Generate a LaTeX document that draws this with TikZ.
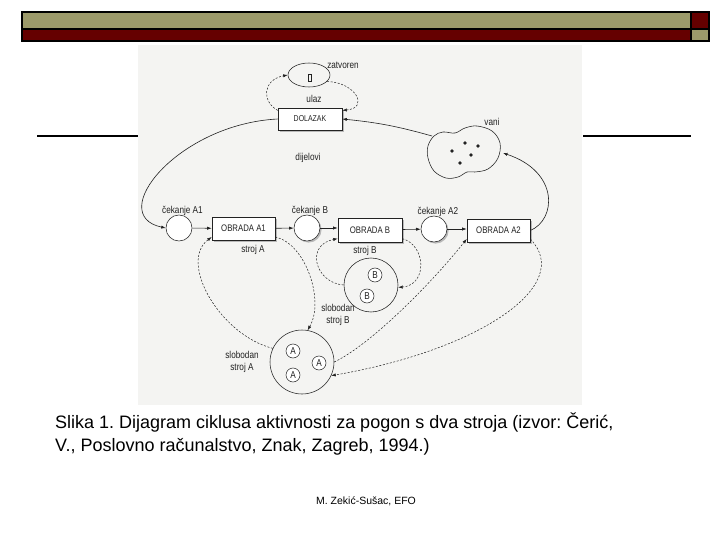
\documentclass[tikz,border=0pt]{standalone}
\usepackage{fontspec}
\setmainfont{Liberation Sans}
\newfontfamily\narrowfont[FakeStretch=0.82]{Liberation Sans}
\usepackage{tikz}
\usetikzlibrary{arrows.meta, positioning, calc, shapes.geometric, shadows}
\definecolor{cOlive}{HTML}{9C9A6A}
\definecolor{cMaroon}{HTML}{650000}
\definecolor{cScan}{HTML}{F4F4F2}
\definecolor{cInk}{HTML}{222222}
\frenchspacing

\begin{document}
\begin{tikzpicture}[x=1pt, y=1pt,
  shd/.style={drop shadow={shadow xshift=1.6pt, shadow yshift=-1.6pt, fill=gray!55, opacity=1}},
  box/.style={draw=cInk, fill=white, shd, line width=0.6pt, minimum width=63pt, minimum height=23pt, inner sep=0pt, font=\narrowfont\fontsize{9.5}{11}\selectfont, text=cInk},
  que/.style={draw=cInk, fill=white, circle, line width=0.55pt, minimum size=26pt, inner sep=0pt},
  pool/.style={draw=cInk, circle, line width=0.55pt, inner sep=0pt},
  tok/.style={draw=cInk, fill=white, circle, line width=0.5pt, minimum size=14pt, inner sep=0pt, font=\narrowfont\fontsize{10}{11}\selectfont, text=cInk},
  lbl/.style={font=\narrowfont\fontsize{10}{12}\selectfont, text=cInk, align=center, inner sep=0pt},
  arr/.style={-{Latex[length=4.5pt, width=3.2pt]}, draw=cInk, line width=0.6pt},
  dsh/.style={arr, dash pattern=on 2pt off 1.6pt, line width=0.5pt}
]
\useasboundingbox (0,0) rectangle (720,-540);

% slide frame
\draw[line width=1.2pt, fill=cOlive] (22,-12) rectangle (691,-29);
\draw[line width=1.2pt, fill=cMaroon] (691,-12) rectangle (709,-29);
\draw[line width=1.2pt, fill=cMaroon] (22,-29) rectangle (691,-41);
\draw[line width=1.2pt, fill=cOlive] (691,-29) rectangle (709,-41);
\draw[line width=2pt] (37,-136) -- (138,-136);
\draw[line width=2pt] (583,-136) -- (691,-136);
\fill[cScan] (138,-45) rectangle (582,-405);

% arrival part
\node[ellipse, draw=cInk, line width=0.55pt, minimum width=42pt, minimum height=24pt, inner sep=0pt] (zat) at (309,-75) {};
\node[draw=cInk, minimum width=3pt, minimum height=7pt, inner sep=0pt] (zbox) at (310,-78) {};
\node[lbl] (zatl) at (343,-65) {zatvoren};
\node[lbl] (ulaz) at (314,-99) {ulaz};
\node[box, minimum width=64pt, minimum height=22pt, font=\narrowfont\fontsize{8.5}{10}\selectfont] (dol) at (310,-119) {DOLAZAK};
\node[lbl] (dij) at (308,-158) {dijelovi};

% vani
\draw[cInk, line width=0.55pt] plot[smooth cycle, tension=0.6] coordinates {(443,-132) (455,-133) (465,-128) (477,-126) (492,-131) (500,-143) (498,-158) (488,-169) (475,-172) (467,-172) (458,-177) (446,-178) (434,-171) (428,-158) (428,-146) (434,-136)};
\foreach \p in {(465,-143), (478,-146), (471,-155), (452,-151), (460,-163)}
  \fill[cInk] \p circle (1.8pt);
\node[lbl] (vanil) at (492,-122) {vani};
\coordinate (vaniW) at (432,-136);
\coordinate (vaniE) at (503,-153);

% row of queues and activities
\node[que] (cekA1) at (179,-228) {};
\node[box] (obrA1) at (243.5,-228.5) {OBRADA A1};
\node[que, shd] (cekB) at (307,-228) {};
\node[box, minimum width=64pt, minimum height=24pt] (obrB) at (370,-230) {OBRADA B};
\node[que, shd] (cekA2) at (434,-229) {};
\node[box] (obrA2) at (498.5,-230.5) {OBRADA A2};

\node[lbl] (lA1) at (182.5,-211) {čekanje A1};
\node[lbl] (lB) at (310,-211) {čekanje B};
\node[lbl] (lA2) at (438,-212) {čekanje A2};
\node[lbl] (sA) at (253,-250) {stroj A};
\node[lbl] (sB) at (365,-251) {stroj B};

% machines
\node[pool, minimum size=54pt] (strB) at (371,-285) {};
\node[tok] (b1) at (375,-275) {B};
\node[tok] (b2) at (367,-296) {B};
\node[lbl] (slB) at (338,-315) {slobodan\\stroj B};

\node[pool, minimum size=64pt] (slobA) at (302,-362) {};
\node[tok] (a1) at (293,-351) {A};
\node[tok] (a2) at (319,-363) {A};
\node[tok] (a3) at (293,-375) {A};
\node[lbl] (slA) at (242,-362) {slobodan\\stroj A};

% solid flow
\draw[arr] (cekA1) -- (obrA1);
\draw[arr] (obrA1) -- (cekB);
\draw[arr] (cekB) -- (obrB.west |- cekB);
\draw[arr] (obrB) -- (cekA2);
\draw[arr] (cekA2) -- (obrA2.west |- cekA2);
\draw[arr] (vaniW) to[bend right=5] (dol.east);
\draw[arr] (dol.west) .. controls +(-100,-5) and +(-61,13) .. (cekA1.west);
\draw[arr] (obrA2.east) .. controls (556,-220) and (560,-172) .. (vaniE);

% dashed flow
\draw[dsh] (dol.165) .. controls (262,-102) and (262,-80) .. (zat.west);
\draw[dsh] (zat.-20) .. controls (355,-82) and (370,-108) .. (dol.15);
\draw[dsh] (obrA1.-15) .. controls (305,-243) and (325,-300) .. (slobA.80);
\draw[dsh] (slobA.155) .. controls (220,-335) and (178,-262) .. (obrA1.195);
\draw[dsh] (strB.west) .. controls (315,-283) and (305,-245) .. (obrB.195);
\draw[dsh] (obrB.-15) .. controls (426,-245) and (428,-285) .. (strB.-5);
\draw[dsh] (slobA.east) .. controls (370,-345) and (430,-285) .. (obrA2.195);
\draw[dsh] (obrA2.-15) .. controls (575,-285) and (480,-350) .. (slobA.-25);

% caption and footer
\node[anchor=base west, inner sep=0pt, font=\fontsize{18}{22}\selectfont] (cap1) at (55,-428) {Slika 1. Dijagram ciklusa aktivnosti za pogon s dva stroja (izvor: Čerić,};
\node[anchor=base west, inner sep=0pt, font=\fontsize{18}{22}\selectfont] (cap2) at (55,-451) {V., Poslovno računalstvo, Znak, Zagreb, 1994.)};
\node[font=\fontsize{10.5}{12}\selectfont] (foot) at (366,-501) {M. Zekić-Sušac, EFO};
\end{tikzpicture}
\end{document}
